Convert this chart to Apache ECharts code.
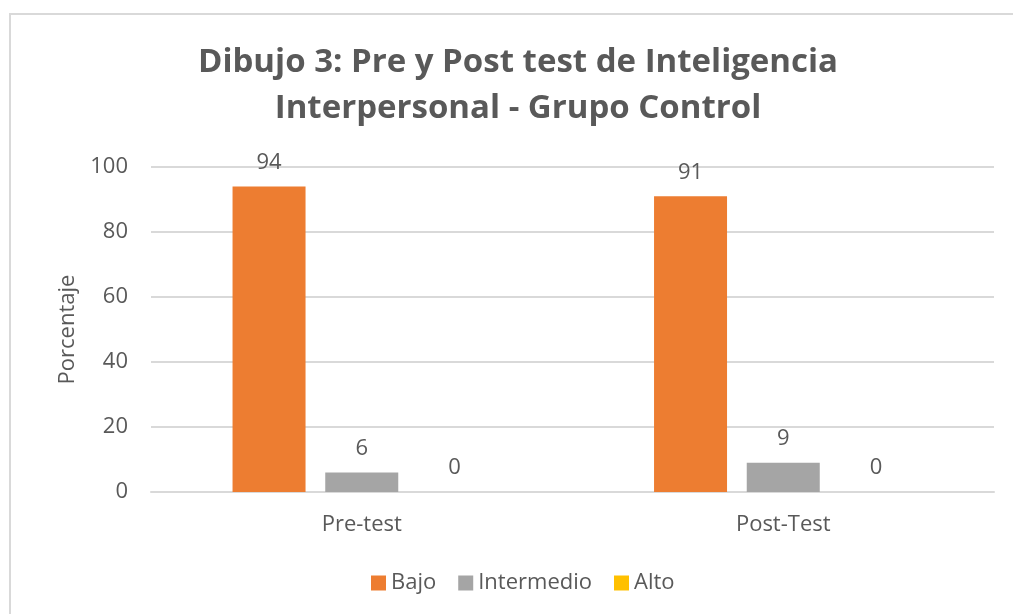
<!DOCTYPE html>
<html>
<head>
<meta charset="utf-8">
<script src="https://cdn.jsdelivr.net/npm/echarts@6/dist/echarts.min.js"></script>
<style>
  html, body { margin: 0; padding: 0; background: #fff; }
  #chart { width: 1013px; height: 614px; }
</style>
</head>
<body>
<div id="chart"></div>
<script>
// datos del gráfico
const categorias = ['Pre-test', 'Post-Test'];
const bajo = [94, 91];
const intermedio = [6, 9];
const alto = [0, 0];
const yTicks = { min: 0, max: 100, interval: 20 };

const textColor = '#595959';
const fontFam = '"Open Sans", "Noto Sans", sans-serif';
const fs = 22;

const chart = echarts.init(document.getElementById('chart'));

function serie (name, data, color) {
  return {
    name: name,
    type: 'bar',
    data: data,
    barWidth: 73,
    barGap: '27%',
    itemStyle: { color: color },
    label: {
      show: true,
      position: 'top',
      distance: 13,
      color: textColor,
      fontFamily: fontFam,
      fontSize: fs
    }
  };
}

const options = {
  animation: false,
  textStyle: { fontFamily: fontFam },
  graphic: [{
    type: 'rect',
    shape: { x: 10, y: 14, width: 1020, height: 620 },
    style: { fill: 'none', stroke: '#d9d9d9', lineWidth: 2 },
    silent: true
  }],
  title: {
    text: 'Dibujo 3: Pre y Post test de Inteligencia\nInterpersonal - Grupo Control',
    left: 513,
    textAlign: 'center',
    top: 35,
    textStyle: {
      color: textColor,
      fontFamily: fontFam,
      fontSize: 33,
      fontWeight: 'bold',
      lineHeight: 46
    }
  },
  legend: {
    bottom: 15,
    left: 366,
    itemWidth: 15,
    itemHeight: 15,
    itemGap: 22,
    icon: 'rect',
    textStyle: { color: textColor, fontSize: 22, fontFamily: fontFam }
  },
  grid: { left: 151, right: 19, top: 167, bottom: 122, containLabel: false },
  xAxis: {
    type: 'category',
    data: categorias,
    axisLine: { lineStyle: { color: '#d9d9d9', width: 2 } },
    axisTick: { show: false },
    axisLabel: { color: textColor, fontSize: fs, margin: 22, fontFamily: fontFam }
  },
  yAxis: {
    type: 'value',
    min: yTicks.min,
    max: yTicks.max,
    interval: yTicks.interval,
    name: 'Porcentaje',
    nameLocation: 'middle',
    nameGap: 72,
    nameTextStyle: { color: textColor, fontSize: fs, fontFamily: fontFam },
    axisLine: { show: false },
    axisTick: { show: false },
    axisLabel: { color: textColor, fontSize: fs, margin: 23, fontFamily: fontFam },
    splitLine: { lineStyle: { color: '#d9d9d9', width: 2 } }
  },
  series: [
    serie('Bajo', bajo, '#ed7d31'),
    serie('Intermedio', intermedio, '#a5a5a5'),
    serie('Alto', alto, '#ffc000')
  ]
};

chart.setOption(options, true);
</script>
</body>
</html>
